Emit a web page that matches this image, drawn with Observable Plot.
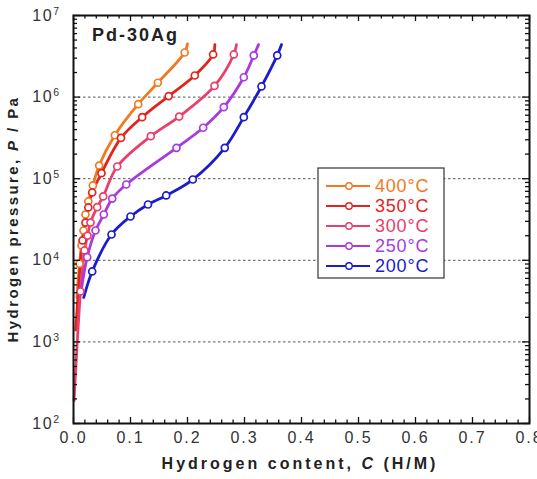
<!DOCTYPE html>
<html>
<head>
<meta charset="utf-8">
<script src="https://cdn.jsdelivr.net/npm/d3@7"></script>
<script src="https://cdn.jsdelivr.net/npm/@observablehq/plot@0.6"></script>
<style>
  body { margin: 0; background: #fff; }
  #chart { position: relative; width: 537px; height: 479px; overflow: hidden; }
  svg { font-family: "Liberation Sans", Arial, sans-serif; }
</style>
</head>
<body>
<div id="chart"></div>
<script>
// Isotherm temperatures (°C) and their colours
const temps = ["400", "350", "300", "250", "200"];
const colors = ["#f07a22", "#e3241c", "#e8406c", "#a93ade", "#1c1ccc"];

// Hydrogen content C (H/M) and hydrogen pressure P (Pa) along each isotherm.
// The first and last entries are the ends of the smoothed curve; markers sit on the others.
const c400 = [0.006, 0.0105, 0.014, 0.0175, 0.021, 0.026, 0.034, 0.045, 0.0725, 0.1135, 0.148, 0.195, 0.200];
const p400 = [3500, 9100, 15200, 23200, 36400, 52600, 82600, 145000, 341000, 818000, 1.50e6, 3.52e6, 4.5e6];

const c350 = [0.004, 0.0158, 0.021, 0.026, 0.0328, 0.0491, 0.0833, 0.1205, 0.167, 0.2128, 0.245, 0.248];
const p350 = [1400, 17500, 29000, 44400, 67800, 117000, 316000, 568000, 1.03e6, 1.84e6, 3.33e6, 4.4e6];

const c300 = [0.001, 0.0123, 0.0193, 0.0246, 0.0298, 0.0416, 0.0521, 0.0767, 0.1356, 0.1854, 0.2474, 0.2812, 0.286];
const p300 = [190, 4150, 13200, 20100, 29000, 44800, 60600, 141000, 332000, 578000, 1.37e6, 3.33e6, 4.4e6];

const c250 = [0.013, 0.024, 0.0386, 0.0532, 0.0679, 0.0925, 0.1807, 0.2275, 0.2637, 0.2988, 0.3163, 0.3246];
const p250 = [4000, 10900, 23200, 36400, 57100, 84900, 239000, 421000, 752000, 1.75e6, 3.24e6, 4.4e6];

const c200 = [0.018, 0.0328, 0.0667, 0.1, 0.1307, 0.1626, 0.2093, 0.2654, 0.2988, 0.3298, 0.3574, 0.365];
const p200 = [3500, 7300, 20700, 34400, 48300, 62300, 97700, 239000, 568000, 1.35e6, 3.24e6, 4.4e6];

// Axis ticks and labels
const xTicks = [0, 0.1, 0.2, 0.3, 0.4, 0.5, 0.6, 0.7, 0.8];
const xTickLabels = ["0.0", "0.1", "0.2", "0.3", "0.4", "0.5", "0.6", "0.7", "0.8"];
const yTicks = [1e2, 1e3, 1e4, 1e5, 1e6, 1e7];
const yTickExponents = ["2", "3", "4", "5", "6", "7"];
const gridLines = [1e3, 1e4, 1e5, 1e6];

const series = [
  {t: "400", c: c400, p: p400},
  {t: "350", c: c350, p: p350},
  {t: "300", c: c300, p: p300},
  {t: "250", c: c250, p: p250},
  {t: "200", c: c200, p: p200}
];
const rows = series.flatMap(s => s.c.map((c, j) => ({
  temp: s.t, c, p: s.p[j], tail: j === 0 || j === s.c.length - 1
})));

const W = 537, H = 479;
const mL = 73, mR = 8, mT = 15, mB = 56;
const fw = W - mL - mR, fh = H - mT - mB;

const xMinor = d3.range(0, 0.8001, 0.02).filter(v => Math.abs(v * 10 - Math.round(v * 10)) > 1e-6);
const yMinor = d3.range(2, 7).flatMap(e => d3.range(2, 10).map(k => k * 10 ** e));

const tickStyle = {stroke: "#111", strokeWidth: 1.3};

const chart = Plot.plot({
  width: W, height: H,
  marginLeft: mL, marginRight: mR, marginTop: mT, marginBottom: mB,
  style: {background: "#fff", overflow: "visible"},
  x: {domain: [0, 0.8]},
  y: {type: "log", domain: [1e2, 1e7]},
  color: {domain: temps, range: colors},
  marks: [
    Plot.ruleY(gridLines, {y: d => d, stroke: "#555", strokeWidth: 1, strokeDasharray: "2.5,2.5"}),
    Plot.line(rows, {x: "c", y: "p", z: "temp", stroke: "temp", strokeWidth: 2.8, curve: "catmull-rom"}),
    Plot.dot(rows.filter(d => !d.tail), {x: "c", y: "p", stroke: "temp", fill: "#fff", r: 3.5, strokeWidth: 1.7}),
    // inward ticks on all four sides
    Plot.ruleX(xTicks, {x: d => d, insetTop: fh - 6, ...tickStyle}),
    Plot.ruleX(xMinor, {x: d => d, insetTop: fh - 3.5, ...tickStyle}),
    Plot.ruleX(xTicks, {x: d => d, insetBottom: fh - 6, ...tickStyle}),
    Plot.ruleX(xMinor, {x: d => d, insetBottom: fh - 3.5, ...tickStyle}),
    Plot.ruleY(yTicks, {y: d => d, insetRight: fw - 7, ...tickStyle}),
    Plot.ruleY(yMinor, {y: d => d, insetRight: fw - 4, ...tickStyle}),
    Plot.ruleY(yTicks, {y: d => d, insetLeft: fw - 7, ...tickStyle}),
    Plot.ruleY(yMinor, {y: d => d, insetLeft: fw - 4, ...tickStyle}),
    Plot.axisX(xTicks, {tickSize: 0, tickPadding: 8, fontSize: 16, fill: "#333",
      tickFormat: d => xTickLabels[xTicks.indexOf(d)], label: null}),
    Plot.axisY(yTicks, {tickSize: 0, tickPadding: 13, fontSize: 16, fill: "#333",
      tickFormat: d => "10^" + yTickExponents[yTicks.indexOf(d)], label: null}),
    Plot.frame({stroke: "#111", strokeWidth: 2})
  ]
});

const svg = d3.select(chart);

// tick label styling: spaced digits, superscript exponents
svg.selectAll('g[aria-label="x-axis tick label"] text').attr("letter-spacing", "2px");
svg.selectAll('g[aria-label="y-axis tick label"] text').each(function () {
  const t = d3.select(this);
  const [base, exp] = t.text().split("^");
  t.text(base).attr("letter-spacing", "1.5px");
  t.append("tspan").attr("dy", "-0.55em").attr("font-size", 10.5).text(exp);
});

// sample label
svg.append("text")
  .attr("x", 92).attr("y", 41).attr("text-anchor", "start")
  .attr("font-size", 18).attr("font-weight", "bold").attr("letter-spacing", "2px")
  .attr("fill", "#222").text("Pd-30Ag");

// axis titles
const xt = svg.append("text")
  .attr("x", 300).attr("y", 469).attr("text-anchor", "middle")
  .attr("font-size", 16).attr("font-weight", "bold").attr("letter-spacing", "3px").attr("fill", "#222");
xt.append("tspan").text("Hydrogen content, ");
xt.append("tspan").attr("font-style", "italic").text("C");
xt.append("tspan").text(" (H/M)");

const yt = svg.append("text")
  .attr("transform", "translate(18,219) rotate(-90)").attr("text-anchor", "middle")
  .attr("font-size", 15).attr("font-weight", "bold").attr("letter-spacing", "2.4px").attr("fill", "#222");
yt.append("tspan").text("Hydrogen pressure, ");
yt.append("tspan").attr("font-style", "italic").text("P");
yt.append("tspan").text(" / Pa");

// legend box
const lg = svg.append("g").attr("transform", "translate(318,168)");
lg.append("rect").attr("width", 126).attr("height", 110).attr("fill", "#fff").attr("stroke", "#333").attr("stroke-width", 1.2);
temps.forEach((t, i) => {
  const y = 18 + i * 20;
  lg.append("line").attr("x1", 8).attr("x2", 52).attr("y1", y).attr("y2", y)
    .attr("stroke", colors[i]).attr("stroke-width", 2.2);
  lg.append("circle").attr("cx", 31).attr("cy", y).attr("r", 3.2)
    .attr("fill", "#fff").attr("stroke", colors[i]).attr("stroke-width", 1.4);
  lg.append("text").attr("x", 57).attr("y", y + 6).attr("text-anchor", "start")
    .attr("font-size", 18).attr("letter-spacing", "0.8px").attr("fill", colors[i]).text(t + "°C");
});

document.getElementById("chart").appendChild(chart);
</script>
</body>
</html>
